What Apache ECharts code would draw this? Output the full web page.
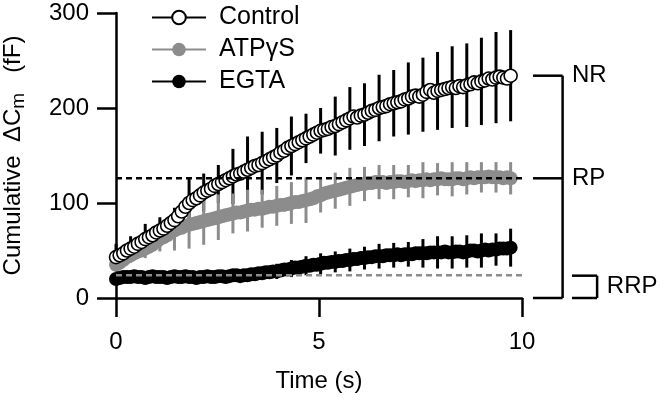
<!DOCTYPE html>
<html>
<head>
<meta charset="utf-8">
<script src="https://cdn.jsdelivr.net/npm/echarts@6/dist/echarts.min.js"></script>
<style>html,body{margin:0;padding:0;background:#fff}#c{width:664px;height:400px}</style>
</head>
<body>
<div id="c"></div>
<script>
// ---- data ----
const sampleInterval = 0.09;   // s between points
const errorBarEvery = 4;       // SEM bar drawn on every 4th point

const controlMean = [
  43,45,47,50,52, 54,57,59,62, 64,66,69,71, 73,76,79,82, 86,91,96,100,
  103,105,108,111, 113,115,118,120, 122,124,126,128, 130,131,133,135,
  137,139,140,142, 144,146,148,150, 153,155,158,160, 162,164,166,168,
  170,172,174,176, 177,178,180,181, 183,185,187,189, 191,190,192,193,
  195,197,198,200, 201,202,204,205, 206,207,209,210, 212,213,212,214,
  217,219,216,218, 219,220,221,222, 221,223,222,224, 225,227,226,228,
  229,231,230,232, 233,232,231,234
];
const atpMean = [
  35,37,40,43,45, 47,49,50,52, 54,56,59,62, 64,66,69,71, 73,74,76,77,
  78,79,80,81, 82,83,84,85, 86,87,88,89, 90,90,91,92, 93,93,94,94,
  95,96,96,97, 98,98,99,100, 101,101,102,103, 104,105,107,108,
  110,111,112,113, 114,115,116,117, 118,119,120,120, 121,121,122,122,
  122,121,122,122, 123,123,122,123, 124,123,124,124, 125,124,125,125,
  126,125,125,125, 126,126,125,126, 127,126,127,127, 127,128,127,127,
  127,126,127,126
];
const egtaMean = [
  20,21,22,22,22, 23,22,22,21, 22,23,22,22, 22,21,22,23, 22,22,23,22,
  22,21,22,22, 23,22,22,23, 23,22,23,24, 24,23,24,24, 25,25,26,26,
  27,27,28,28, 29,30,30,31, 32,32,33,34, 34,35,35,36, 37,37,38,38,
  39,39,40,40, 41,41,42,42, 43,43,44,44, 44,45,45,45, 46,45,46,46,
  46,47,47,47, 47,48,48,48, 48,49,48,48, 49,49,48,49, 50,50,49,50,
  51,50,51,51, 52,52,52,53
];
// SEM at every 4th point
const controlSem = [14,13,16,14,13,26,20,20,29,35,33,29,31,26,24,31,33,33,35,35,38,39,41,43,44,46,48,48];
const atpSem     = [5,8,10,13,21,25,25,24,21,22,20,21,22,24,18,19,20,18,18,18,17,19,17,18,17,16,16,17];
const egtaSem    = [3,3,3,4,4,4,5,5,5,6,7,8,9,10,11,11,12,12,13,13,13,15,17,17,17,18,17,20];

const seriesNames = ['Control', 'ATPγS', 'EGTA'];
const xTicks = [0, 5, 10];
const yTicks = [0, 100, 200, 300];
const rpLevel = 126;     // dashed RP line
const rrpLevel = 24;     // dashed RRP line
const nrLevel = 234;     // NR bracket top

// ---- helpers ----
const FONT = 'Liberation Sans';
const GRAY = '#8c8c8c';
const times = controlMean.map((_, i) => +(i * sampleInterval).toFixed(2));
const pairs = (m) => m.map((v, i) => [times[i], v]);
function errData(mean, sem) {
  return sem.map((s, k) => {
    const i = k * errorBarEvery;
    return [times[i], mean[i] - s, mean[i] + s];
  });
}
function errSeries(name, mean, sem, color, z) {
  return {
    type: 'custom', name: name, z: z, silent: true, clip: false,
    data: errData(mean, sem),
    encode: { x: 0, y: [1, 2] },
    renderItem: function (params, api) {
      const x = api.value(0);
      const lo = api.coord([x, api.value(1)]);
      const hi = api.coord([x, api.value(2)]);
      return { type: 'line', shape: { x1: lo[0], y1: lo[1], x2: hi[0], y2: hi[1] },
               style: { stroke: color, lineWidth: 3 } };
    }
  };
}

const chart = echarts.init(document.getElementById('c'), null, { renderer: 'canvas' });
const axisCommon = {
  axisLine: { show: true, lineStyle: { color: '#000', width: 2.5 } },
  axisTick: { show: true, inside: false, length: 19, lineStyle: { color: '#000', width: 2.5 } },
  splitLine: { show: false },
};
chart.setOption({
  animation: false,
  backgroundColor: '#fff',
  grid: { left: 116, right: 142, top: 13, bottom: 102, containLabel: false, outerBoundsMode: 'none' },
  legend: {
    data: seriesNames, orient: 'vertical', left: 146, top: 0,
    itemWidth: 54, itemHeight: 17, itemGap: 7, selectedMode: false,
    textStyle: { fontFamily: FONT, fontSize: 25, color: '#000', padding: [0, 0, 0, 8] }
  },
  xAxis: Object.assign({
    type: 'value', min: xTicks[0], max: xTicks[xTicks.length - 1], interval: 5,
    name: 'Time (s)', nameLocation: 'middle', nameGap: 71,
    nameTextStyle: { fontFamily: FONT, fontSize: 24, color: '#000' },
    axisLabel: { margin: 32, fontFamily: FONT, fontSize: 24, color: '#000' }
  }, axisCommon),
  yAxis: Object.assign({
    type: 'value', min: yTicks[0], max: yTicks[yTicks.length - 1], interval: 100,
    name: '{t|Cumulative  ΔC}{s|m}{t|   (fF)}', nameLocation: 'middle', nameGap: 88,
    nameTextStyle: {
      fontFamily: FONT, fontSize: 24, color: '#000',
      rich: {
        t: { fontFamily: FONT, fontSize: 24, color: '#000', lineHeight: 30 },
        s: { fontFamily: FONT, fontSize: 19, color: '#000', lineHeight: 19, verticalAlign: 'bottom' }
      }
    },
    axisLabel: { margin: 27, fontFamily: FONT, fontSize: 24, color: '#000' }
  }, axisCommon),
  series: [
    errSeries('Control SEM', controlMean, controlSem, '#000', 1),
    errSeries('ATP SEM', atpMean, atpSem, GRAY, 2),
    errSeries('EGTA SEM', egtaMean, egtaSem, '#000', 2),
    {
      type: 'line', name: 'ATPγS', z: 3, data: pairs(atpMean),
      symbol: 'circle', symbolSize: 14, showAllSymbol: true,
      lineStyle: { color: GRAY, width: 3 }, itemStyle: { color: GRAY, borderWidth: 0 }
    },
    {
      type: 'line', name: 'EGTA', z: 3, data: pairs(egtaMean),
      symbol: 'circle', symbolSize: 14, showAllSymbol: true,
      lineStyle: { color: '#000', width: 3 }, itemStyle: { color: '#000', borderWidth: 0 }
    },
    {
      type: 'line', name: 'Control', z: 4, data: pairs(controlMean),
      symbol: 'circle', symbolSize: 13, showAllSymbol: true,
      lineStyle: { color: '#000', width: 3 },
      itemStyle: { color: '#fff', borderColor: '#000', borderWidth: 1.6 }
    },
    {
      type: 'line', name: 'RP level', z: 6, silent: true, symbol: 'none',
      data: [[xTicks[0], rpLevel], [xTicks[xTicks.length - 1], rpLevel]],
      lineStyle: { color: '#000', width: 2.5, type: [6, 4] }
    },
    {
      type: 'line', name: 'RRP level', z: 6, silent: true, symbol: 'none',
      data: [[xTicks[0], rrpLevel], [xTicks[xTicks.length - 1], rrpLevel]],
      lineStyle: { color: GRAY, width: 2.5, type: [6, 4] }
    }
  ]
});

// ---- bracket annotations at the right, placed through the axes ----
const px = (t) => chart.convertToPixel({ xAxisIndex: 0 }, t);
const py = (v) => chart.convertToPixel({ yAxisIndex: 0 }, v);
const bL = px(10.27), bR = px(11.0), lab = px(11.23);
const rL = px(11.23), rR = px(11.85), rLab = px(12.09);
const yNR = py(nrLevel), yRP = py(rpLevel), y0 = py(0), yRRP = py(rrpLevel - 0.5);
const ls = { stroke: '#000', lineWidth: 2.5 };
const ln = (x1, y1, x2, y2) => ({ type: 'line', shape: { x1, y1, x2, y2 }, style: ls, z: 10 });
const tx = (text, x, y) => ({ type: 'text', x: x, y: y, z: 10,
  style: { text: text, fontFamily: FONT, fontSize: 24, fill: '#000', verticalAlign: 'middle', align: 'left' } });
chart.setOption({
  graphic: [
    ln(bL, yNR, bR, yNR), ln(bR, yNR, bR, y0), ln(bL, y0, bR, y0), ln(bL, yRP, bR, yRP),
    ln(rL, yRRP, rR, yRRP), ln(rR, yRRP, rR, y0), ln(rL, y0, rR, y0),
    tx('NR', lab, yNR), tx('RP', lab, yRP), tx('RRP', rLab, (yRRP + y0) / 2)
  ]
});
</script>
</body>
</html>
